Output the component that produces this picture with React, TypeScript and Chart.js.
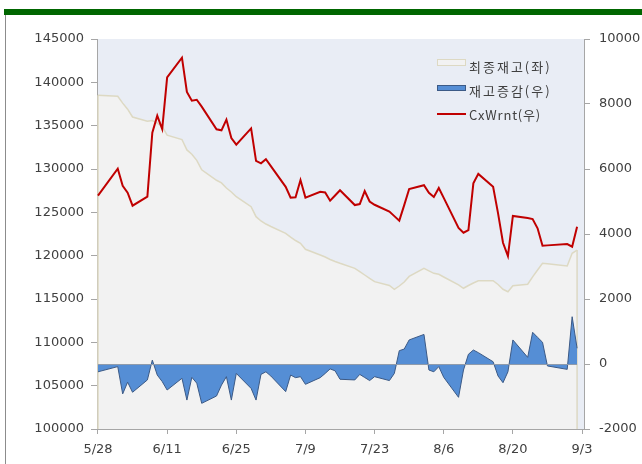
import React, { useEffect, useRef } from "react";
import { Chart, registerables } from "chart.js";

Chart.register(...registerables);

// LME trading days (2010), day 0 = 5/28
const dates = [
  "5/28",
  "6/1", "6/2", "6/3", "6/4",
  "6/7", "6/8", "6/9", "6/10", "6/11",
  "6/14", "6/15", "6/16", "6/17", "6/18",
  "6/21", "6/22", "6/23", "6/24", "6/25",
  "6/28", "6/29", "6/30", "7/1", "7/2",
  "7/5", "7/6", "7/7", "7/8", "7/9",
  "7/12", "7/13", "7/14", "7/15", "7/16",
  "7/19", "7/20", "7/21", "7/22", "7/23",
  "7/26", "7/27", "7/28", "7/29", "7/30",
  "8/2", "8/3", "8/4", "8/5", "8/6",
  "8/9", "8/10", "8/11", "8/12", "8/13",
  "8/16", "8/17", "8/18", "8/19", "8/20",
  "8/23", "8/24", "8/25", "8/26", "8/27",
  "8/31", "9/1", "9/2",
];

// 최종재고 (left axis)
const inventory = [
  138500,
  138400, 137600, 136900, 136000,
  135500, 135600, 135300, 134900, 133900,
  133400, 132200, 131700, 131000, 129900,
  128700, 128400, 127800, 127350, 126800,
  125650, 124500, 124000, 123650, 123370,
  122580, 122150, 121750, 121430, 120740,
  120080, 119850, 119560, 119330, 119120,
  118540, 118170, 117770, 117370, 117000,
  116560, 116120, 116500, 116960, 117600,
  118540, 118250, 117960, 117850, 117540,
  116620, 116240, 116560, 116850, 117110,
  117110, 116670, 116120, 115840, 116540,
  116700, 117560, 118350, 119120, 119060,
  118810, 120270, 120650,
];

// 재고증감 (right axis)
const change = [
  -240,
  -80, -920, -560, -870,
  -490, 120, -340, -540, -800,
  -440, -1110, -410, -590, -1210,
  -985, -650, -390, -1110, -290,
  -750, -1110, -320, -240, -370,
  -850, -340, -420, -390, -625,
  -420, -290, -150, -210, -470,
  -490, -320, -415, -510, -390,
  -510, -290, 410, 460, 740,
  910, -185, -240, -80, -410,
  -1025, -185, 300, 430, 350,
  70, -370, -575, -240, 740,
  205, 975, 820, 670, -60,
  -165, 1455, 485,
];

// CxWrnt (right axis)
const cxWrnt = [
  5180,
  6010, 5480, 5270, 4870,
  5150, 7120, 7640, 7230, 8820,
  9425, 8370, 8100, 8130, 7920,
  7220, 7190, 7520, 6950, 6750,
  7250, 6250, 6175, 6300, 6090,
  5450, 5120, 5130, 5660, 5120,
  5300, 5280, 5025, 5185, 5345,
  4890, 4920, 5320, 5000, 4900,
  4690, 4550, 4410, 4890, 5385,
  5500, 5270, 5140, 5415, 5110,
  4185, 4040, 4120, 5560, 5850,
  5455, 4635, 3730, 3320, 4555,
  4490, 4460, 4175, 3640, 3650,
  3690, 3610, 4225,
];

const tickLabels = ["5/28", "6/11", "6/25", "7/9", "7/23", "8/6", "8/20", "9/3"];

const seriesNames = ["최종재고(좌)", "재고증감(우)", "CxWrnt(우)"];

const BASE = Date.UTC(2010, 4, 28);
function dayOffset(md: string): number {
  const [m, d] = md.split("/").map(Number);
  return Math.round((Date.UTC(2010, m - 1, d) - BASE) / 86400000);
}

const AXIS_COLOR = "#a6a6a6";
const TEXT_COLOR = "#404040";
const TICK_FONT = { family: "DejaVu Sans", size: 13 };

const bgPlugin = {
  id: "plotBg",
  beforeDraw(chart: any) {
    const { ctx, chartArea } = chart;
    ctx.save();
    ctx.fillStyle = "#e9edf5";
    ctx.fillRect(chartArea.left, chartArea.top, chartArea.right - chartArea.left, chartArea.bottom - chartArea.top);
    ctx.restore();
  },
};

const areaEdgePlugin = {
  id: "areaEdges",
  afterDatasetDraw(chart: any, args: any) {
    const { ctx, chartArea } = chart;
    if (args.index === 0) {
      const pts = args.meta.data;
      if (!pts.length) return;
      ctx.save();
      ctx.strokeStyle = "#ddd9c3";
      ctx.lineWidth = 1.5;
      ctx.beginPath();
      const a = pts[0];
      const b = pts[pts.length - 1];
      ctx.moveTo(a.x, a.y);
      ctx.lineTo(a.x, chartArea.bottom);
      ctx.moveTo(b.x, b.y);
      ctx.lineTo(b.x, chartArea.bottom);
      ctx.stroke();
      ctx.restore();
    }
    if (args.index === 1) {
      const pts = args.meta.data;
      if (!pts.length) return;
      const y0 = chart.scales.y1.getPixelForValue(0);
      ctx.save();
      ctx.strokeStyle = "#8f9bab";
      ctx.lineWidth = 1;
      ctx.beginPath();
      ctx.moveTo(pts[0].x, Math.round(y0) + 0.5);
      ctx.lineTo(pts[pts.length - 1].x, Math.round(y0) + 0.5);
      ctx.stroke();
      ctx.restore();
    }
  },
};

const legendPlugin = {
  id: "insideLegend",
  afterDraw(chart: any) {
    const { ctx } = chart;
    const ds = chart.data.datasets;
    ctx.save();
    ctx.textBaseline = "middle";
    ctx.textAlign = "left";
    const x0 = 437;
    const tx = 469;
    const setFont = (spacing: string) => {
      ctx.font = '13px "Noto Sans CJK KR"';
      if ("letterSpacing" in ctx) (ctx as any).letterSpacing = spacing;
    };
    // item 1
    ctx.fillStyle = "#f2f2f2";
    ctx.fillRect(x0, 59, 29, 7);
    ctx.strokeStyle = "#ddd9c3";
    ctx.lineWidth = 1;
    ctx.strokeRect(x0 + 0.5, 59.5, 28, 6);
    ctx.fillStyle = TEXT_COLOR;
    setFont("2px");
    ctx.fillText(ds[0].label, tx, 67);
    // item 2
    ctx.fillStyle = "#558ed5";
    ctx.fillRect(x0, 85, 29, 6);
    ctx.strokeStyle = "#3c5a86";
    ctx.strokeRect(x0 + 0.5, 85.5, 28, 5);
    ctx.fillStyle = TEXT_COLOR;
    setFont("2px");
    ctx.fillText(ds[1].label, tx, 91);
    // item 3
    ctx.strokeStyle = "#c00000";
    ctx.lineWidth = 2;
    ctx.beginPath();
    ctx.moveTo(x0, 114);
    ctx.lineTo(x0 + 29, 114);
    ctx.stroke();
    ctx.fillStyle = TEXT_COLOR;
    setFont("0.8px");
    ctx.fillText(ds[2].label, tx, 115);
    ctx.restore();
  },
};

export default function App() {
  const canvasRef = useRef<HTMLCanvasElement | null>(null);

  useEffect(() => {
    document.body.style.margin = "0";
    const canvas = canvasRef.current;
    if (!canvas) return;
    const xs = dates.map(dayOffset);
    const labelMap: Record<number, string> = {};
    tickLabels.forEach((t) => (labelMap[dayOffset(t)] = t));

    const chart = new Chart(canvas, {
      type: "line",
      data: {
        datasets: [
          {
            label: seriesNames[0],
            data: xs.map((x, i) => ({ x, y: inventory[i] })),
            yAxisID: "y",
            fill: "start",
            backgroundColor: "#f2f2f2",
            borderColor: "#ddd9c3",
            borderWidth: 1.5,
            pointRadius: 0,
            tension: 0,
            order: 3,
          },
          {
            label: seriesNames[1],
            data: xs.map((x, i) => ({ x, y: change[i] })),
            yAxisID: "y1",
            fill: "origin",
            backgroundColor: "#558ed5",
            borderColor: "#3c5a86",
            borderWidth: 1,
            pointRadius: 0,
            tension: 0,
            order: 2,
          },
          {
            label: seriesNames[2],
            data: xs.map((x, i) => ({ x, y: cxWrnt[i] })),
            yAxisID: "y1",
            fill: false,
            borderColor: "#c00000",
            borderWidth: 2,
            pointRadius: 0,
            tension: 0,
            order: 1,
          },
        ],
      },
      options: {
        responsive: false,
        animation: false,
        devicePixelRatio: 1,
        layout: { padding: { top: 39, left: 0, right: 0, bottom: 0 } },
        plugins: {
          legend: { display: false },
          tooltip: { enabled: false },
        },
        scales: {
          x: {
            type: "linear",
            min: -0.2,
            max: 98.4,
            afterBuildTicks: (s: any) => {
              s.ticks = tickLabels.map((t) => ({ value: dayOffset(t) }));
            },
            afterFit: (s: any) => {
              s.height = 35;
            },
            ticks: {
              autoSkip: false,
              maxRotation: 0,
              padding: 8,
              color: TEXT_COLOR,
              font: TICK_FONT,
              callback: (v: any) => labelMap[v] ?? "",
            },
            grid: { drawOnChartArea: false, tickLength: 5, color: AXIS_COLOR },
            border: { color: AXIS_COLOR },
          },
          y: {
            position: "left",
            min: 100000,
            max: 145000,
            afterFit: (s: any) => {
              s.width = 97;
            },
            ticks: {
              stepSize: 5000,
              padding: 7,
              color: TEXT_COLOR,
              font: TICK_FONT,
              callback: (v: any) => String(v),
            },
            grid: { drawOnChartArea: false, tickLength: 6, color: AXIS_COLOR },
            border: { color: AXIS_COLOR },
          },
          y1: {
            position: "right",
            min: -2000,
            max: 10000,
            afterFit: (s: any) => {
              s.width = 58;
            },
            ticks: {
              stepSize: 2000,
              padding: 9,
              color: TEXT_COLOR,
              font: TICK_FONT,
              callback: (v: any) => String(v),
            },
            grid: { drawOnChartArea: false, tickLength: 6, color: AXIS_COLOR },
            border: { color: AXIS_COLOR },
          },
        },
      },
      plugins: [bgPlugin, areaEdgePlugin, legendPlugin],
    });
    return () => chart.destroy();
  }, []);

  return (
    <div style={{ position: "absolute", left: 0, top: 0, width: 642, height: 464, background: "#ffffff" }}>
      <canvas ref={canvasRef} width={642} height={464} style={{ display: "block" }} />
      <div style={{ position: "absolute", left: 4, top: 9, width: 638, height: 6, background: "#006600" }} />
      <div style={{ position: "absolute", left: 5, top: 15, width: 1, height: 449, background: "#8c8c8c" }} />
    </div>
  );
}
